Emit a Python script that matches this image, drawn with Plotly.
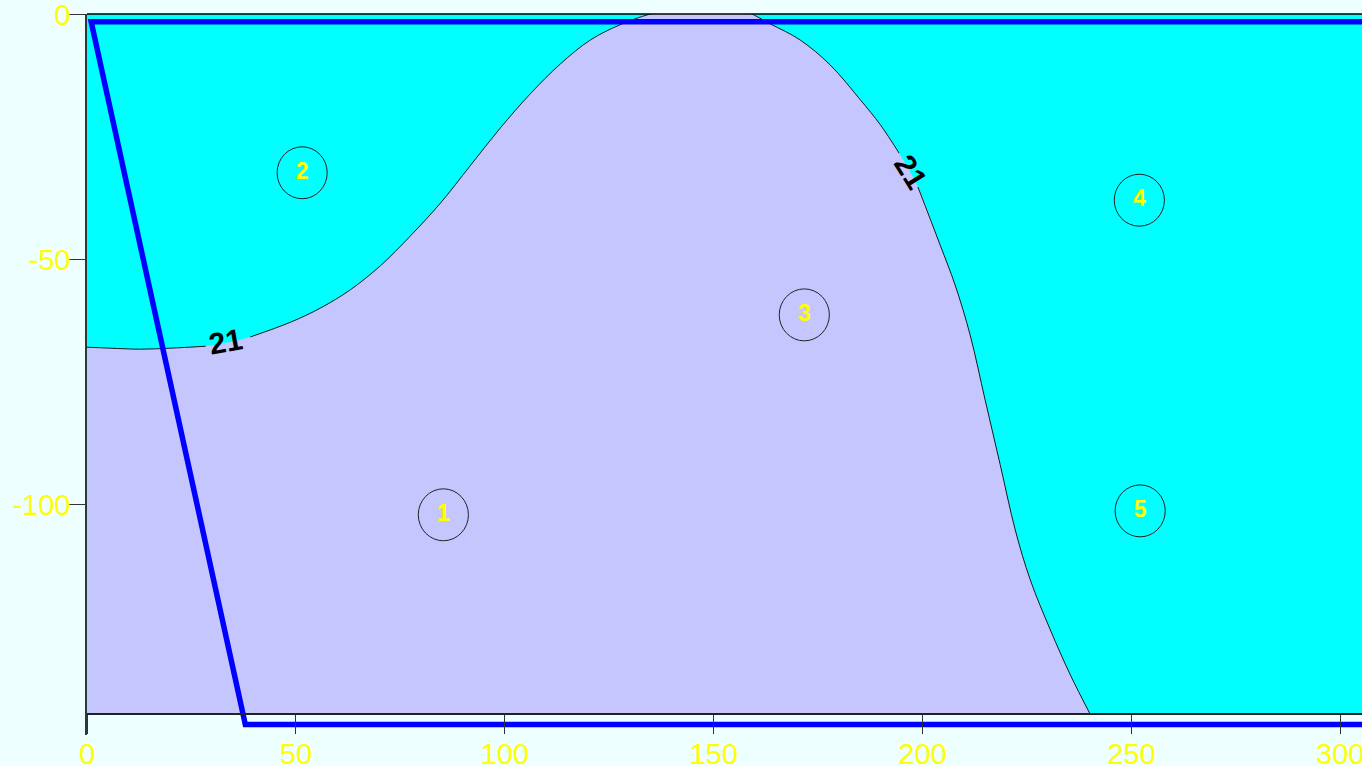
import plotly.graph_objects as go

# Section extent (metres)
MODEL_BOTTOM = -142.65
X_RANGE = [0, 305.2]
Y_RANGE = [-146.94, 0.2]

# Contour "21" separating the two materials (x along section, elevation)
BOUNDARY_X = [0, 5.6, 12.8, 19.9, 28.4, 39.1, 48.7, 55.9, 63.0, 70.2, 77.4, 84.6,
              91.7, 98.9, 106.1, 113.3, 120.5, 127.6, 134.8, 142.0, 149.2, 156.4,
              163.5, 170.7, 177.9, 185.1, 189.9, 194.4, 198.9, 204.2, 207.8, 211.4,
              215.0, 218.6, 222.2, 225.8, 230.6, 235.4, 240.1]
BOUNDARY_Y = [-67.8, -68.0, -68.2, -68.0, -67.6, -65.7, -62.7, -59.8, -56.1, -51.2,
              -45.1, -38.4, -30.8, -23.1, -16.1, -10.0, -5.1, -2.0, 0.2, 1.6, 1.8,
              1.2, -1.8, -5.1, -10.2, -17.3, -22.4, -28.2, -35.1, -46.9, -55.1,
              -65.3, -78.6, -91.8, -105.1, -115.3, -125.5, -134.7, MODEL_BOTTOM]
# Contour line is interrupted after these x values to leave room for its labels
LINE_BREAKS = [28.4, 194.4]
CONTOUR_LABEL = "21"
CONTOUR_LABEL_X = [33.1, 197.1]
CONTOUR_LABEL_Y = [-66.7, -32.0]
CONTOUR_LABEL_ANGLE = [-10, 58]

# Numbered zones
ZONE_ID = ["1", "2", "3", "4", "5"]
ZONE_X = [85.3, 51.5, 171.7, 251.9, 252.1]
ZONE_Y = [-102.0, -32.2, -61.2, -37.8, -101.2]

# Outline of the blue boundary polyline
OUTLINE_X = [320, 1.0, 37.9, 320]
OUTLINE_Y = [-1.4, -1.4, -144.8, -144.8]

X_TICKS = [0, 50, 100, 150, 200, 250, 300]
Y_TICKS = [0, -50, -100]
Y_TICK_TEXT = ["0", "-50", "-100"]

FONT = "Liberation Sans, Arial, sans-serif"
CYAN = "#00ffff"
LAVENDER = "#c6c6ff"
BG = "#eeffff"
YELLOW = "#ffff00"

fig = go.Figure()

# Cyan background of the section
fig.add_trace(go.Scatter(
    x=[X_RANGE[0], 320, 320, X_RANGE[0], X_RANGE[0]],
    y=[Y_RANGE[1], Y_RANGE[1], MODEL_BOTTOM, MODEL_BOTTOM, Y_RANGE[1]],
    mode="lines", line=dict(width=0), fill="toself", fillcolor=CYAN,
    hoverinfo="skip", showlegend=False))

# Lavender material: between the base of the section and the contour
fig.add_trace(go.Scatter(
    x=[BOUNDARY_X[0], BOUNDARY_X[-1]], y=[MODEL_BOTTOM, MODEL_BOTTOM],
    mode="lines", line=dict(width=0), hoverinfo="skip", showlegend=False))
fig.add_trace(go.Scatter(
    x=BOUNDARY_X, y=BOUNDARY_Y, mode="lines",
    line=dict(width=0, shape="spline"), fill="tonexty", fillcolor=LAVENDER,
    hoverinfo="skip", showlegend=False))

# Contour line with gaps for labels
line_x, line_y = [], []
for xv, yv in zip(BOUNDARY_X, BOUNDARY_Y):
    line_x.append(xv)
    line_y.append(yv)
    if xv in LINE_BREAKS:
        line_x.append(None)
        line_y.append(None)
fig.add_trace(go.Scatter(
    x=line_x, y=line_y, mode="lines",
    line=dict(color="#1a1a1a", width=1, shape="spline"),
    connectgaps=False, hoverinfo="skip", showlegend=False))

# Blue outline
fig.add_trace(go.Scatter(
    x=OUTLINE_X, y=OUTLINE_Y, mode="lines",
    line=dict(color="#0000ff", width=5.5), hoverinfo="skip", showlegend=False))

# Zone numbers
fig.add_trace(go.Scatter(
    x=ZONE_X, y=ZONE_Y, mode="text", text=ZONE_ID,
    textfont=dict(family=FONT, size=23, color=YELLOW, weight="bold"),
    hoverinfo="skip", showlegend=False))

shapes = []
for zx, zy in zip(ZONE_X, ZONE_Y):
    shapes.append(dict(type="circle", xref="x", yref="y",
                       x0=zx - 6.0, x1=zx + 6.0, y0=zy - 5.3, y1=zy + 5.3,
                       line=dict(color="#222222", width=1)))
# Top frame line
shapes.append(dict(type="line", xref="paper", yref="paper", x0=0, x1=1, y0=1, y1=1,
                   line=dict(color="#000000", width=1.5)))

annotations = []
for ax_, ay_, ang in zip(CONTOUR_LABEL_X, CONTOUR_LABEL_Y, CONTOUR_LABEL_ANGLE):
    annotations.append(dict(x=ax_, y=ay_, xref="x", yref="y", text=CONTOUR_LABEL,
                            showarrow=False, textangle=ang,
                            font=dict(family=FONT, size=30, color="#000000",
                                      weight="bold")))

x_axis_pos = (MODEL_BOTTOM - Y_RANGE[0]) / (Y_RANGE[1] - Y_RANGE[0])

fig.update_layout(
    width=1362, height=766,
    margin=dict(l=87, r=0, t=14, b=31),
    paper_bgcolor=BG, plot_bgcolor=BG,
    shapes=shapes, annotations=annotations,
    xaxis=dict(range=X_RANGE, anchor="free", position=x_axis_pos,
               automargin=False, ticklabelstandoff=-5, ticklabeloverflow="allow",
               tickvals=X_TICKS, ticks="outside", ticklen=19, tickwidth=1.3,
               tickcolor="#333333", showline=True, linecolor="#222222",
               linewidth=1.5, showgrid=False, zeroline=False,
               tickfont=dict(family=FONT, size=29, color=YELLOW)),
    yaxis=dict(range=Y_RANGE, tickvals=Y_TICKS, ticktext=Y_TICK_TEXT,
               automargin=False, ticklabelstandoff=-7, ticklabeloverflow="allow",
               ticks="outside", ticklen=16, tickwidth=1.3, tickcolor="#333333",
               showline=True, linecolor="#2a3a3a", linewidth=1.5,
               showgrid=False, zeroline=False,
               tickfont=dict(family=FONT, size=29, color=YELLOW)),
)

fig.write_html("out.html")
